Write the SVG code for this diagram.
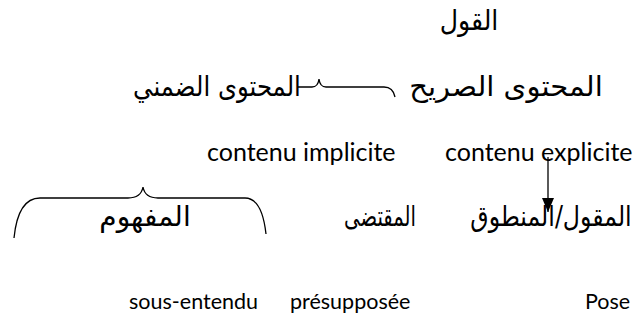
<svg xmlns="http://www.w3.org/2000/svg" width="641" height="322" viewBox="0 0 641 322">
<style>
.ar{font-family:"DejaVu Sans","Noto Sans",sans-serif;font-size:28px;fill:#000;text-anchor:middle;direction:rtl}
.fr{font-family:Lato,"Open Sans",sans-serif;font-size:25px;fill:#000}
.fr2{font-family:Lato,"Open Sans",sans-serif;font-size:21.5px;fill:#000}
.ln{fill:none;stroke:#000;stroke-width:1.3}
</style>
<defs>
<marker id="ah" markerWidth="14" markerHeight="12" refX="14" refY="6" orient="auto" markerUnits="userSpaceOnUse" viewBox="0 0 14 12">
<path d="M0,0 L14,6 L0,12 Z" fill="#000"/>
</marker>
</defs>
<g id="n-qawl"><text class="ar" transform="translate(469,30) scale(0.9,1)">القول</text></g>
<g id="n-sarih"><text class="ar" transform="translate(506,96) scale(1.04,1)">المحتوى الصريح</text></g>
<g id="n-dimni"><text class="ar" transform="translate(217,96) scale(0.87,1)">المحتوى الضمني</text></g>
<g id="n-implicite"><text class="fr" x="207" y="161">contenu implicite</text></g>
<g id="n-explicite"><text class="fr" x="445" y="161">contenu explicite</text></g>
<g id="n-mantuq"><text class="ar" transform="translate(551,226) scale(0.845,1)">المقول/المنطوق</text></g>
<g id="n-muqtada"><text class="ar" transform="translate(380,226) scale(0.7,1)">المقتضى</text></g>
<g id="n-mafhum"><text class="ar" transform="translate(145,226)">المفهوم</text></g>
<g id="n-sous"><text class="fr2" x="129" y="309">sous-entendu</text></g>
<g id="n-presup"><text class="fr2" x="290" y="309">présupposée</text></g>
<g id="n-pose"><text class="fr2" x="585" y="309">Pose</text></g>
<g id="connectors">
<path class="ln" d="M298,87 L312,87 Q318,87 319,79 Q320,87 326,87 L384,87 Q393,87 395,97"/>
<path class="ln" d="M14,238 Q18,198 40,198 L128,198 Q141,198 143,187 Q145,198 158,198 L245,198 Q262,198 266,234"/>
<line class="ln" x1="548" y1="157" x2="548" y2="212" marker-end="url(#ah)"/>
</g>
</svg>
